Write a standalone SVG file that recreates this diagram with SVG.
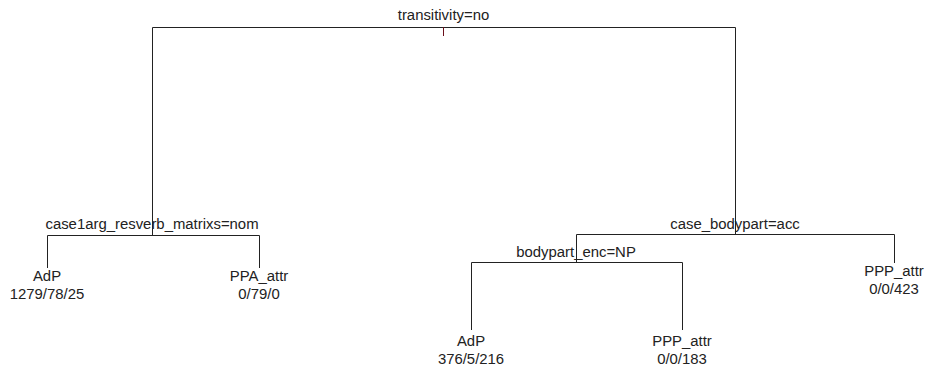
<svg xmlns="http://www.w3.org/2000/svg" width="925" height="369" viewBox="0 0 925 369">
<style>
.e{fill:none;stroke:#222;stroke-width:1}
text{font-family:"Liberation Sans",Arial,sans-serif;font-size:14.9px;fill:#222;text-anchor:middle}
</style>
<rect width="925" height="369" fill="#fff"/>
<g id="connectors">
<path class="e" d="M152.5,235V27.5H735.5V234.5"/>
<path d="M443.5,27V36" stroke="#6a0d1a" stroke-width="1"/>
<path class="e" d="M47.5,268V235.5H259.5V268"/>
<path class="e" d="M576.5,262V234.5H894.5V263"/>
<path class="e" d="M471.5,330V262.5H682.5V330"/>
</g>
<g id="root"><text x="443.5" y="20">transitivity=no</text></g>
<g id="split1"><text x="152" y="229">case1arg_resverb_matrixs=nom</text></g>
<g id="split2"><text x="735" y="229">case_bodypart=acc</text></g>
<g id="split3"><text x="576" y="257">bodypart_enc=NP</text></g>
<g id="leaf1"><text x="47" y="281">AdP</text><text x="47" y="299">1279/78/25</text></g>
<g id="leaf2"><text x="259" y="281">PPA_attr</text><text x="259" y="299">0/79/0</text></g>
<g id="leaf3"><text x="894" y="276">PPP_attr</text><text x="894" y="294">0/0/423</text></g>
<g id="leaf4"><text x="471" y="346">AdP</text><text x="471" y="364">376/5/216</text></g>
<g id="leaf5"><text x="682" y="346">PPP_attr</text><text x="682" y="364">0/0/183</text></g>
</svg>
